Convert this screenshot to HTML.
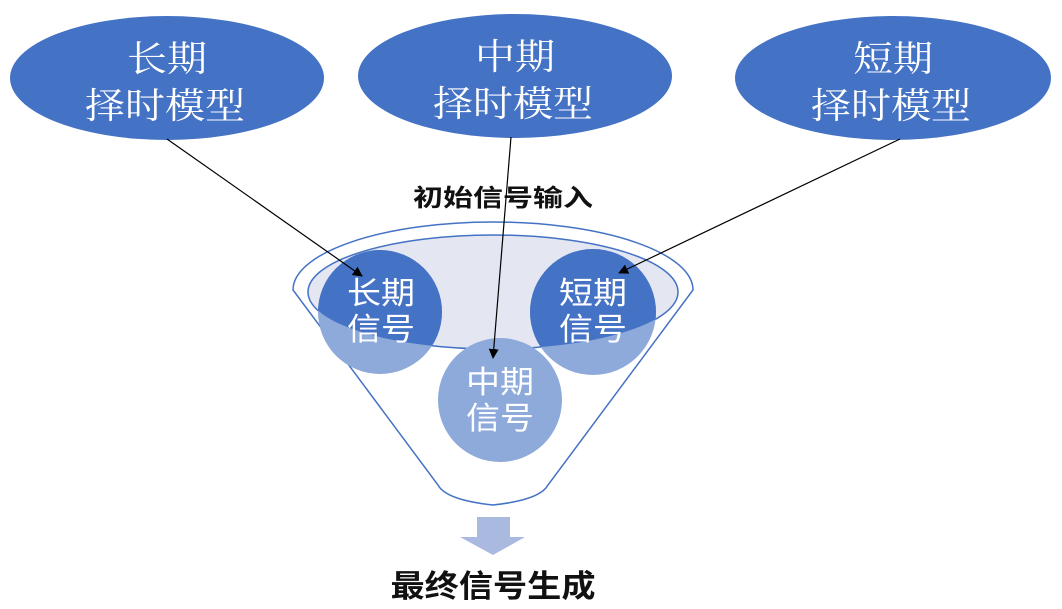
<!DOCTYPE html>
<html><head><meta charset="utf-8"><style>
html,body{margin:0;padding:0;background:#fff;}
svg{display:block;}
</style></head><body>
<svg width="1062" height="609" viewBox="0 0 1062 609" xmlns="http://www.w3.org/2000/svg">
<defs>
<marker id="ah" markerWidth="10" markerHeight="10" refX="9" refY="5" orient="auto" markerUnits="userSpaceOnUse">
<path d="M0,0 L10,5 L0,10 z" fill="#000"/>
</marker>
<clipPath id="inner"><ellipse cx="493" cy="292" rx="185" ry="57"/></clipPath>
</defs>
<ellipse cx="167" cy="78" rx="157" ry="62" fill="#4472c4"/>
<ellipse cx="515" cy="76" rx="157" ry="62" fill="#4472c4"/>
<ellipse cx="893" cy="78" rx="158" ry="62" fill="#4472c4"/>
<g font-family="'Liberation Serif','Noto Serif CJK SC',serif" font-size="36" fill="#fff" text-anchor="middle" lengthAdjust="spacingAndGlyphs">
<text x="167" y="71" textLength="80" lengthAdjust="spacingAndGlyphs">长期</text><text x="165" y="118" textLength="160" lengthAdjust="spacingAndGlyphs">择时模型</text>
<text x="515" y="69" textLength="80" lengthAdjust="spacingAndGlyphs">中期</text><text x="513" y="116" textLength="160" lengthAdjust="spacingAndGlyphs">择时模型</text>
<text x="893" y="71" textLength="80" lengthAdjust="spacingAndGlyphs">短期</text><text x="891" y="118" textLength="160" lengthAdjust="spacingAndGlyphs">择时模型</text>
</g>
<text x="503" y="206" font-family="'Liberation Sans','Noto Sans CJK SC',sans-serif" font-size="24" font-weight="bold" text-anchor="middle" fill="#111" textLength="180" lengthAdjust="spacingAndGlyphs">初始信号输入</text>
<path d="M293,290 A200,68 0 0 1 693,290 L548,485 Q540,500 493,505 Q446,500 438,485 Z" fill="#fff" stroke="#4472c4" stroke-width="1.5"/>
<ellipse cx="493" cy="292" rx="185" ry="57" fill="#e4e7f2" stroke="#4472c4" stroke-width="1.5"/>
<g fill="#8eaadb">
<circle cx="380" cy="312" r="62"/>
<circle cx="593" cy="312" r="63"/>
<circle cx="500" cy="400" r="62"/>
</g>
<g fill="#4472c4" clip-path="url(#inner)">
<circle cx="380" cy="312" r="62"/>
<circle cx="593" cy="312" r="63"/>
</g>
<g font-family="'Liberation Sans','Noto Sans CJK SC',sans-serif" font-size="31" fill="#fff" text-anchor="middle">
<text x="381" y="304" textLength="68" lengthAdjust="spacingAndGlyphs">长期</text><text x="381" y="340" textLength="68" lengthAdjust="spacingAndGlyphs">信号</text>
<text x="593" y="304" textLength="68" lengthAdjust="spacingAndGlyphs">短期</text><text x="593" y="340" textLength="68" lengthAdjust="spacingAndGlyphs">信号</text>
<text x="500" y="393" textLength="68" lengthAdjust="spacingAndGlyphs">中期</text><text x="500" y="429" textLength="68" lengthAdjust="spacingAndGlyphs">信号</text>
</g>
<line x1="167" y1="139" x2="362" y2="276" stroke="#000" stroke-width="1.2" marker-end="url(#ah)"/>
<line x1="511" y1="137" x2="493" y2="358" stroke="#000" stroke-width="1.2" marker-end="url(#ah)"/>
<line x1="900" y1="139" x2="619" y2="273" stroke="#000" stroke-width="1.2" marker-end="url(#ah)"/>
<path d="M477,517 L510,517 L510,537 L525,537 L493,555 L460,537 L477,537 Z" fill="#a9b9e0"/>
<text x="493" y="597" font-family="'Liberation Sans','Noto Sans CJK SC',sans-serif" font-size="31" font-weight="bold" text-anchor="middle" fill="#111" textLength="205" lengthAdjust="spacingAndGlyphs">最终信号生成</text>
</svg>
</body></html>
